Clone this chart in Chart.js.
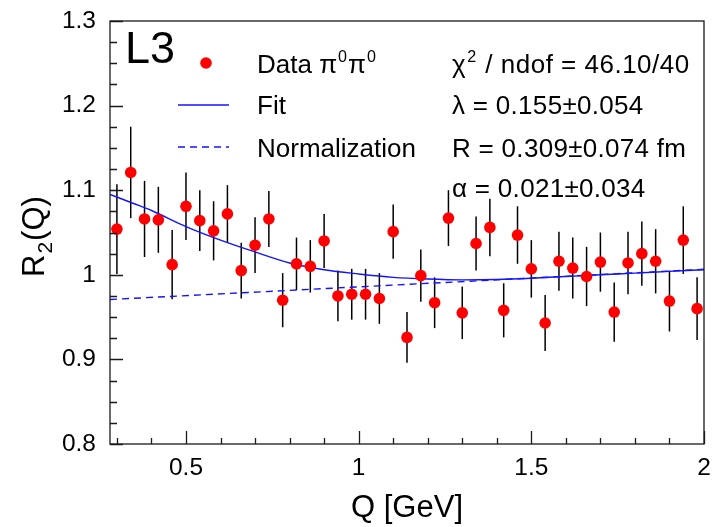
<!DOCTYPE html>
<html>
<head>
<meta charset="utf-8">
<script src="https://cdn.jsdelivr.net/npm/chart.js@4"></script>
<style>
html,body{margin:0;padding:0;background:#fff;}
canvas{display:block;}
</style>
</head>
<body>
<canvas id="c" width="713" height="527"></canvas>
<script>
// ---- data ----
const qValues = [0.30,0.34,0.38,0.42,0.46,0.50,0.54,0.58,0.62,0.66,0.70,0.74,0.78,0.82,0.86,0.90,0.94,0.98,1.02,1.06,1.10,1.14,1.18,1.22,1.26,1.30,1.34,1.38,1.42,1.46,1.50,1.54,1.58,1.62,1.66,1.70,1.74,1.78,1.82,1.86,1.90,1.94,1.98];
const r2Values = [1.054,1.121,1.066,1.065,1.012,1.081,1.064,1.052,1.072,1.005,1.035,1.066,0.970,1.013,1.010,1.040,0.975,0.977,0.977,0.972,1.051,0.926,0.999,0.967,1.067,0.955,1.037,1.056,0.958,1.047,1.007,0.943,1.016,1.008,0.998,1.015,0.956,1.014,1.025,1.016,0.969,1.041,0.960];
const r2Errors = [0.053,0.054,0.045,0.039,0.041,0.040,0.036,0.035,0.034,0.033,0.033,0.033,0.032,0.031,0.031,0.032,0.030,0.030,0.030,0.030,0.032,0.030,0.031,0.030,0.033,0.031,0.032,0.034,0.032,0.034,0.034,0.033,0.035,0.036,0.035,0.035,0.035,0.037,0.038,0.038,0.036,0.040,0.037];
const fitQ = [0.28,0.35,0.40,0.50,0.60,0.70,0.80,0.90,1.00,1.10,1.20,1.30,1.40,1.50,1.60,1.70,1.80,1.90,2.00];
const fitR = [1.095,1.084,1.076,1.057,1.041,1.027,1.014,1.006,1.001,0.997,0.995,0.994,0.9945,0.996,0.998,1.000,1.002,1.004,1.006];
const normQ = [0.28,2.00];
const normR = [0.9708,1.0065];
const xTickLabels = [0.5,1,1.5,2];
const yTickLabels = [0.8,0.9,1.0,1.1,1.2,1.3];

const FONT = "'Liberation Sans', Arial, Helvetica, sans-serif";
const BLUE = '#1414ff';

function richText(ctx, parts, x, y, size, spacing) {
  let cx = x;
  ctx.letterSpacing = (spacing || 0) + 'px';
  for (const [t, sup] of parts) {
    if (sup) {
      ctx.font = (size*0.62) + 'px ' + FONT;
      ctx.fillText(t, cx + 1, y - size*0.42);
      cx += ctx.measureText(t).width + 2;
    } else {
      ctx.font = size + 'px ' + FONT;
      ctx.fillText(t, cx, y);
      cx += ctx.measureText(t).width;
    }
  }
  ctx.letterSpacing = '0px';
}

function noPad(s) { s.paddingTop = 0; s.paddingBottom = 0; s.paddingLeft = 0; s.paddingRight = 0; }

const decor = {
  id: 'decor',
  beforeDatasetsDraw(chart) {
    const {ctx, scales: {x, y}} = chart;
    ctx.save();
    ctx.beginPath();
    const a = chart.chartArea;
    ctx.rect(a.left, a.top, a.right - a.left, a.bottom - a.top);
    ctx.clip();
    ctx.strokeStyle = '#000';
    ctx.lineWidth = 1.5;
    for (let i = 0; i < qValues.length; i++) {
      const px = x.getPixelForValue(qValues[i]);
      ctx.beginPath();
      ctx.moveTo(px, y.getPixelForValue(r2Values[i] - r2Errors[i]));
      ctx.lineTo(px, y.getPixelForValue(r2Values[i] + r2Errors[i]));
      ctx.stroke();
    }
    ctx.restore();
  },
  afterDraw(chart) {
    const {ctx, chartArea: a, scales: {x, y}} = chart;
    ctx.save();
    ctx.strokeStyle = '#1a1a1a';
    ctx.lineWidth = 1.3;
    ctx.strokeRect(a.left, a.top, a.right - a.left, a.bottom - a.top);
    ctx.beginPath();
    for (let k = 3; k <= 20; k++) {
      const px = Math.round(x.getPixelForValue(k / 10)) + 0.5;
      const len = (k % 5 === 0) ? 13 : 6;
      ctx.moveTo(px, a.bottom); ctx.lineTo(px, a.bottom - len);
    }
    for (let k = 0; k <= 20; k++) {
      const py = Math.round(y.getPixelForValue(0.8 + k * 0.025)) + 0.5;
      const len = (k % 4 === 0) ? 13 : 7;
      ctx.moveTo(a.left, py); ctx.lineTo(a.left + len, py);
    }
    ctx.stroke();

    // y axis title
    ctx.fillStyle = '#000';
    ctx.save();
    ctx.translate(44, 277);
    ctx.rotate(-Math.PI / 2);
    ctx.textBaseline = 'alphabetic';
    ctx.font = '31px ' + FONT;
    ctx.fillText('R', 0, 0);
    let w = ctx.measureText('R').width;
    ctx.font = '21px ' + FONT;
    ctx.fillText('2', w + 1, 8);
    w += ctx.measureText('2').width + 2;
    ctx.font = '31px ' + FONT;
    ctx.fillText('(Q)', w, 0);
    ctx.restore();

    // L3 label
    ctx.textBaseline = 'alphabetic';
    ctx.font = '45px ' + FONT;
    ctx.fillText('L3', 125, 63);

    // legend
    const rows = [64, 105, 148, 188];
    ctx.fillStyle = '#ff0000';
    ctx.beginPath();
    ctx.arc(206, rows[0] - 1, 5.8, 0, Math.PI * 2);
    ctx.fill();
    ctx.strokeStyle = BLUE;
    ctx.lineWidth = 1.4;
    ctx.beginPath(); ctx.moveTo(178, rows[1]); ctx.lineTo(229, rows[1]); ctx.stroke();
    ctx.setLineDash([7, 5]);
    ctx.beginPath(); ctx.moveTo(178, rows[2] - 1); ctx.lineTo(229, rows[2] - 1); ctx.stroke();
    ctx.setLineDash([]);

    ctx.fillStyle = '#000';
    const sz = 26;
    const base = 9;
    richText(ctx, [['Data \u03c0', false], ['0', true], ['\u03c0', false], ['0', true]], 257, rows[0] + base, sz, 0);
    richText(ctx, [['Fit', false]], 257, rows[1] + base, sz, 0);
    richText(ctx, [['Normalization', false]], 257, rows[2] + base, sz, 0);

    richText(ctx, [['\u03c7', false], ['2', true], [' / ndof = 46.10/40', false]], 452, rows[0] + base, sz, 0.5);
    richText(ctx, [['\u03bb = 0.155\u00b10.054', false]], 452, rows[1] + base, sz, 0.3);
    richText(ctx, [['R = 0.309\u00b10.074 fm', false]], 452, rows[2] + base, sz, 0.3);
    richText(ctx, [['\u03b1 = 0.021\u00b10.034', false]], 452, rows[3] + base, sz, 0.3);
    ctx.restore();
  }
};

new Chart(document.getElementById('c'), {
  type: 'scatter',
  data: {
    datasets: [
      {
        label: 'Data',
        data: qValues.map((q, i) => ({x: q, y: r2Values[i]})),
        backgroundColor: '#ff0000',
        borderWidth: 0,
        pointRadius: 5.8,
        pointHoverRadius: 5.8,
        order: 0
      },
      {
        type: 'line',
        label: 'Fit',
        data: fitQ.map((q, i) => ({x: q, y: fitR[i]})),
        borderColor: BLUE,
        borderWidth: 1.4,
        pointRadius: 0,
        cubicInterpolationMode: 'monotone',
        fill: false,
        order: 1
      },
      {
        type: 'line',
        label: 'Normalization',
        data: normQ.map((q, i) => ({x: q, y: normR[i]})),
        borderColor: BLUE,
        borderWidth: 1.4,
        borderDash: [7, 5],
        pointRadius: 0,
        fill: false,
        order: 2
      }
    ]
  },
  options: {
    responsive: false,
    animation: false,
    layout: {padding: {top: 21, right: 9, left: 0, bottom: 0}},
    plugins: {legend: {display: false}, tooltip: {enabled: false}},
    scales: {
      x: {
        type: 'linear',
        min: 0.28,
        max: 2.0,
        grid: {display: false, drawTicks: false},
        border: {display: false},
        afterBuildTicks(s) { s.ticks = xTickLabels.map(v => ({value: v})); },
        afterFit(s) { s.height = 83; noPad(s); },
        ticks: {
          padding: 10,
          color: '#000',
          font: {family: FONT, size: 24.5},
          callback: v => String(v)
        },
        title: {
          display: true,
          text: 'Q [GeV]',
          color: '#000',
          font: {family: FONT, size: 31},
          padding: {top: 0, bottom: 0}
        }
      },
      y: {
        type: 'linear',
        min: 0.8,
        max: 1.3,
        grid: {display: false, drawTicks: false},
        border: {display: false},
        afterBuildTicks(s) { s.ticks = yTickLabels.map(v => ({value: v})); },
        afterFit(s) { s.width = 110; noPad(s); },
        ticks: {
          padding: 14,
          color: '#000',
          font: {family: FONT, size: 24.5},
          callback: v => String(Math.round(v * 10) / 10)
        }
      }
    }
  },
  plugins: [decor]
});
</script>
</body>
</html>
